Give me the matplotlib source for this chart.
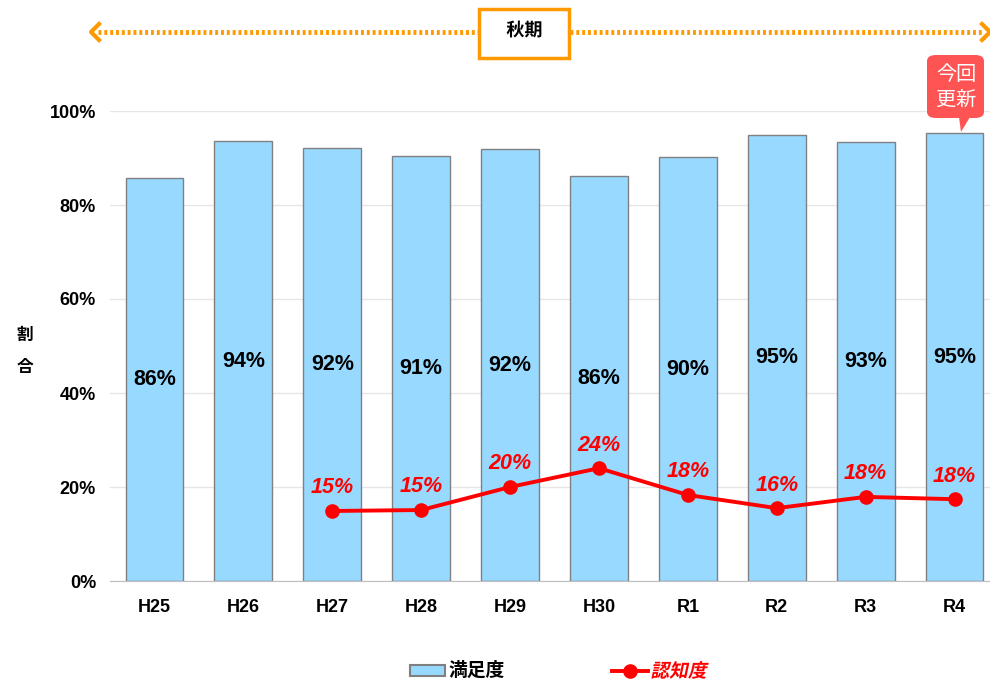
import numpy as np
import matplotlib
matplotlib.use('Agg')
import matplotlib.pyplot as plt
from matplotlib.patches import FancyBboxPatch, Polygon, Rectangle, PathPatch
from matplotlib.lines import Line2D
from matplotlib.textpath import TextPath
from matplotlib.font_manager import FontProperties
from matplotlib.transforms import Affine2D

plt.rcParams['font.family'] = ['Liberation Sans', 'Noto Sans CJK JP', 'DejaVu Sans']

#=============== data ===============================
years = ["H25", "H26", "H27", "H28", "H29", "H30", "R1", "R2", "R3", "R4"]
manzoku = [0.857, 0.936, 0.921, 0.904, 0.919, 0.862, 0.902, 0.949, 0.934, 0.953]
manzoku_lbl = ["86%", "94%", "92%", "91%", "92%", "86%", "90%", "95%", "93%", "95%"]
ninchi_years = ["H27", "H28", "H29", "H30", "R1", "R2", "R3", "R4"]
ninchi = [0.149, 0.151, 0.200, 0.240, 0.183, 0.155, 0.179, 0.174]
ninchi_lbl = ["15%", "15%", "20%", "24%", "18%", "16%", "18%", "18%"]
#====================================================

bar_col = "#97D9FF"
red = "#FF0000"
orange = "#FF9900"
W, H, DPI = 990, 679, 100

fig = plt.figure(figsize=(W/DPI, H/DPI), dpi=DPI)
ax = fig.add_axes([110/W, 1-581/H, 889/W, 470/H])


def px_text(s, xc, yc, size, color, weight="bold", skew=0., sx=1.):
	# text drawn as a path, centred on (xc, yc) in pixels from top-left
	fp = FontProperties(family='Noto Sans CJK JP', weight=weight)
	tp = TextPath((0, 0), s, size=size, prop=fp)
	bb = tp.get_extents()
	tr = (Affine2D().translate(-(bb.x0+bb.x1)/2., -(bb.y0+bb.y1)/2.)
		.skew_deg(skew, 0).scale(sx*DPI/72., DPI/72.).translate(xc, H-yc))
	p = PathPatch(tr.transform_path(tp), facecolor=color, edgecolor="none",
		transform=None)
	fig.add_artist(p)


x = np.arange(len(years))
ax.bar(x, manzoku, width=0.65, color=bar_col, edgecolor="#808080", linewidth=1, zorder=2)
for i, v in enumerate(manzoku):
	ax.text(i, v/2, manzoku_lbl[i], ha="center", va="center",
		fontsize=15.5, fontweight="bold", color="black", zorder=4)

xn = [years.index(y) for y in ninchi_years]
ax.plot(xn, ninchi, color=red, linewidth=2.8, marker="o", markersize=9.5, zorder=3)
for i, v, s in zip(xn, ninchi, ninchi_lbl):
	ax.text(i, v + 0.049, s, ha="center", va="center", fontsize=15.5,
		fontweight="bold", fontstyle="italic", color=red, zorder=4)

ax.set_xlim(-0.5, len(years)-0.5)
ax.set_ylim(0, 1.0)
ax.set_yticks(np.arange(0, 1.01, 0.2))
ax.set_yticklabels(["0%", "20%", "40%", "60%", "80%", "100%"])
ax.set_xticks(x)
ax.set_xticklabels(years)
for t in ax.get_xticklabels() + ax.get_yticklabels():
	t.set_fontweight("bold")
	t.set_fontsize(13)
ax.tick_params(axis="y", length=0, pad=10)
ax.tick_params(axis="x", length=0, pad=13)
ax.grid(axis="y", color="#E6E6E6", linewidth=1, zorder=0)
for s in ["top", "right", "left"]:
	ax.spines[s].set_visible(False)
ax.spines["bottom"].set_color("#BFBFBF")
ax.set_axisbelow(True)

# y label, stacked characters
fig.text(25/W, 1-335/H, "割", ha="center", va="center", fontsize=12, fontweight="bold",
	family=['Noto Sans CJK JP'])
fig.text(25/W, 1-367/H, "合", ha="center", va="center", fontsize=12, fontweight="bold",
	family=['Noto Sans CJK JP'])

# top arrow with 秋期 box
ya = 1-32/H
fig.add_artist(Line2D([98/W, 479/W], [ya, ya], color=orange, linewidth=3.5, linestyle=(0, (0.6, 0.6))))
fig.add_artist(Line2D([570/W, 982/W], [ya, ya], color=orange, linewidth=3.5, linestyle=(0, (0.6, 0.6))))
fig.add_artist(Line2D([99/W, 91/W, 99/W], [ya+8/H, ya, ya-8/H], color=orange, linewidth=3))
fig.add_artist(Line2D([982/W, 990/W, 982/W], [ya+8/H, ya, ya-8/H], color=orange, linewidth=3))
fig.add_artist(Rectangle((479/W, 1-58/H), 90/W, 49/H, facecolor="white",
	edgecolor=orange, linewidth=2.5))
px_text("秋期", 524, 29, 13, "black")

# callout 今回更新
callout_col = "#FF5454"
fig.add_artist(FancyBboxPatch((927/W, 1-118/H), 57/W, 63/H,
	boxstyle="round,pad=0,rounding_size=0.009", facecolor=callout_col, edgecolor="none"))
fig.add_artist(Polygon([[959/W, 1-117/H], [970/W, 1-117/H], [961/W, 1-132/H]],
	closed=True, facecolor=callout_col, edgecolor="none"))
fig.text(956/W, 1-74/H, "今回", ha="center", va="center", fontsize=14.5, color="white",
	family=['Noto Sans CJK JP'])
fig.text(956/W, 1-100/H, "更新", ha="center", va="center", fontsize=14.5, color="white",
	family=['Noto Sans CJK JP'])

# legend
fig.add_artist(Rectangle((410/W, 1-676/H), 35/W, 11/H, facecolor=bar_col,
	edgecolor="#808080", linewidth=1.5))
fig.text(449/W, 1-670/H, "満足度", ha="left", va="center", fontsize=13.5, fontweight="bold",
	family=['Noto Sans CJK JP'])
fig.add_artist(Line2D([612/W, 648/W], [1-671/H, 1-671/H], color=red, linewidth=2.8))
fig.add_artist(Line2D([630/W], [1-671/H], color=red, marker="o", markersize=9.5))
px_text("認知度", 680, 670, 13.5, red, skew=12)

plt.savefig("out.png", dpi=DPI)
